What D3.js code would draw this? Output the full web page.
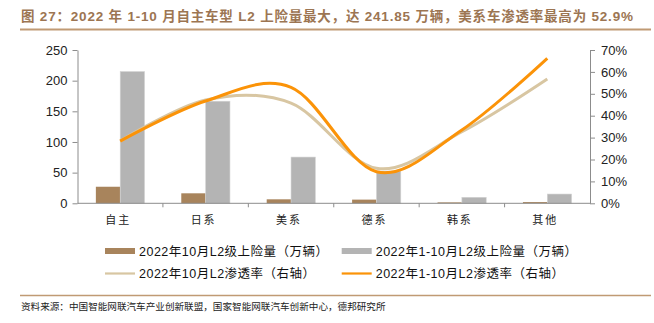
<!DOCTYPE html>
<html>
<head>
<meta charset="utf-8">
<script src="https://cdn.jsdelivr.net/npm/d3@7/dist/d3.min.js"></script>
<style>
  html, body { margin: 0; padding: 0; background: #fff; }
  svg { display: block; }
</style>
</head>
<body>
<svg id="chart" width="654" height="323"></svg>
<script>
// Categories and series
const categories = ["自主", "日系", "美系", "德系", "韩系", "其他"];
const octVolume = [27.0, 16.3, 6.5, 6.0, 1.5, 2.0];            // 2022年10月 L2级上险量（万辆）
const ytdVolume = [214.85, 166.5, 75.4, 52.6, 9.8, 15.1];      // 2022年1-10月 L2级上险量（万辆）
const octRate = [0.284, 0.472, 0.457, 0.160, 0.327, 0.568];    // 2022年10月 L2渗透率
const ytdRate = [0.284, 0.467, 0.529, 0.144, 0.335, 0.662];    // 2022年1-10月 L2渗透率
const leftTicks = [0, 50, 100, 150, 200, 250];
const rightTicks = [0, 0.1, 0.2, 0.3, 0.4, 0.5, 0.6, 0.7];

const titleText = "图 27：2022 年 1-10 月自主车型 L2 上险量最大，达 241.85 万辆，美系车渗透率最高为 52.9%";
const sourceText = "资料来源：中国智能网联汽车产业创新联盟，国家智能网联汽车创新中心，德邦研究所";
const legendLabels = [
  "2022年10月L2级上险量（万辆）",
  "2022年1-10月L2级上险量（万辆）",
  "2022年10月L2渗透率（右轴）",
  "2022年1-10月L2渗透率（右轴）"
];

const colors = {
  oct: "#a8845c",
  ytd: "#b4b4b4",
  octLine: "#d8c6a2",
  ytdLine: "#fb9308",
  axis: "#8c8c8c",
  title: "#9c7552",
  rule: "#c09a74"
};

const fontLatin = "'Liberation Sans', Arial, 'Noto Sans CJK SC', sans-serif";
const fontCJK = "'Noto Sans CJK SC', sans-serif";

const svg = d3.select("#chart");
const plot = { left: 77.5, right: 590, top: 50, bottom: 203.3 };

const x = d3.scaleBand().domain(categories).range([plot.left, plot.right]).paddingInner(0).paddingOuter(0);
const yL = d3.scaleLinear().domain([0, 250]).range([plot.bottom, plot.top]);
const yR = d3.scaleLinear().domain([0, 0.7]).range([plot.bottom, plot.top]);
const barW = x.bandwidth() * 0.285;

// Title and rules
svg.append("text")
  .attr("x", 21).attr("y", 21)
  .attr("font-family", fontLatin).attr("font-weight", "bold").attr("font-size", 13.5)
  .attr("fill", colors.title)
  .attr("textLength", 612).attr("lengthAdjust", "spacing")
  .text(titleText);
svg.append("line").attr("x1", 20).attr("x2", 651).attr("y1", 29.5).attr("y2", 29.5)
  .attr("stroke", colors.rule).attr("stroke-width", 2);
svg.append("line").attr("x1", 20).attr("x2", 651).attr("y1", 295.5).attr("y2", 295.5)
  .attr("stroke", colors.rule).attr("stroke-width", 1.5);

// Bars
const g = svg.append("g");
g.selectAll("rect.oct").data(categories).join("rect").attr("class", "oct")
  .attr("x", d => x(d) + x.bandwidth() / 2 - barW)
  .attr("width", barW)
  .attr("y", (d, i) => yL(octVolume[i]))
  .attr("height", (d, i) => yL(0) - yL(octVolume[i]))
  .attr("fill", colors.oct);
g.selectAll("rect.ytd").data(categories).join("rect").attr("class", "ytd")
  .attr("x", d => x(d) + x.bandwidth() / 2)
  .attr("width", barW)
  .attr("y", (d, i) => yL(ytdVolume[i]))
  .attr("height", (d, i) => yL(0) - yL(ytdVolume[i]))
  .attr("fill", colors.ytd)
  .attr("stroke", "#d4d4d4").attr("stroke-width", 0.6);

// Axes
function styleAxis(sel) {
  sel.selectAll("path.domain").attr("stroke", colors.axis);
  sel.selectAll(".tick line").attr("stroke", colors.axis);
  sel.selectAll(".tick text").attr("fill", "#222").attr("font-family", fontLatin).attr("font-size", 13);
}
const axL = svg.append("g").attr("transform", `translate(${plot.left},0)`)
  .call(d3.axisLeft(yL).tickValues(leftTicks).tickSize(5).tickSizeOuter(0).tickPadding(5));
styleAxis(axL);
const axR = svg.append("g").attr("transform", `translate(${plot.right},0)`)
  .call(d3.axisRight(yR).tickValues(rightTicks).tickFormat(d3.format(".0%")).tickSize(5).tickSizeOuter(0).tickPadding(6));
styleAxis(axR);

// Category axis: band boundaries carry the ticks
const axB = svg.append("g").attr("transform", `translate(0,${plot.bottom})`);
axB.append("line").attr("x1", plot.left).attr("x2", plot.right).attr("stroke", colors.axis);
axB.selectAll("line.tk").data(categories.slice(1)).join("line").attr("class", "tk")
  .attr("x1", d => x(d)).attr("x2", d => x(d)).attr("y1", 0).attr("y2", 4)
  .attr("stroke", colors.axis);
axB.selectAll("text").data(categories).join("text")
  .attr("x", d => x(d) + x.bandwidth() / 2 - 2).attr("y", 21)
  .attr("text-anchor", "middle")
  .attr("font-family", fontCJK).attr("font-size", 11).attr("letter-spacing", 2)
  .attr("fill", "#222")
  .text(d => d);

// Penetration lines (right axis)
const line = d3.line()
  .x((d, i) => x(categories[i]) + x.bandwidth() / 2)
  .y(d => yR(d))
  .curve(d3.curveCardinal.tension(0));
svg.append("path").datum(octRate).attr("d", line)
  .attr("fill", "none").attr("stroke", colors.octLine).attr("stroke-width", 3);
svg.append("path").datum(ytdRate).attr("d", line)
  .attr("fill", "none").attr("stroke", colors.ytdLine).attr("stroke-width", 3);

// Legend
const legendItems = [
  { label: legendLabels[0], color: colors.oct, type: "bar", lx: 105, ly: 251 },
  { label: legendLabels[1], color: colors.ytd, type: "bar", lx: 341.7, ly: 251 },
  { label: legendLabels[2], color: colors.octLine, type: "line", lx: 105, ly: 273.5 },
  { label: legendLabels[3], color: colors.ytdLine, type: "line", lx: 341.7, ly: 273.5 }
];
const lg = svg.append("g");
legendItems.forEach(it => {
  if (it.type === "bar") {
    lg.append("rect").attr("x", it.lx).attr("y", it.ly - 3).attr("width", 30).attr("height", 6).attr("fill", it.color);
  } else {
    lg.append("line").attr("x1", it.lx).attr("x2", it.lx + 30).attr("y1", it.ly).attr("y2", it.ly)
      .attr("stroke", it.color).attr("stroke-width", 2.2);
  }
  lg.append("text").attr("x", it.lx + 34).attr("y", it.ly + 4.5)
    .attr("font-family", fontLatin).attr("font-size", 12.5).attr("letter-spacing", 0.5).attr("fill", "#111")
    .text(it.label);
});

// Source note
svg.append("text").attr("x", 21).attr("y", 309.5)
  .attr("font-family", fontCJK).attr("font-size", 9.6).attr("fill", "#222")
  .text(sourceText);
</script>
</body>
</html>
